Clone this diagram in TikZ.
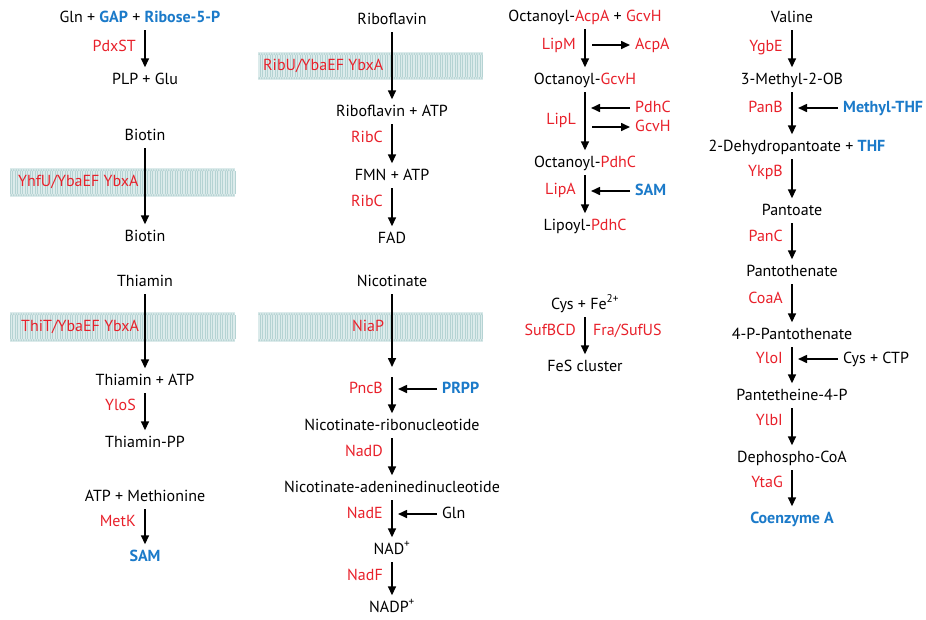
\documentclass[tikz,border=0pt]{standalone}
\usepackage{fontspec}
\setmainfont{PT Sans}
\usetikzlibrary{arrows.meta}
\definecolor{ered}{HTML}{E8202A}
\definecolor{eblue}{HTML}{1B7AC9}
\definecolor{memfill}{HTML}{DCEBEB}
\definecolor{memline}{HTML}{B5D3D3}
\newcommand\kb[1]{\textcolor{eblue}{\bfseries #1}}
\newcommand\kr[1]{\textcolor{ered}{#1}}
\newcommand\mymembrane[4]{%
  \fill[memfill] (#1,#2) rectangle (#3,#4);
  \draw[memline, line width=0.5pt, xstep=2.5, ystep=1000] (#1,#2+3) grid (#3,#4-3);
  \draw[memline, line width=2pt, dash pattern=on 0pt off 2.5pt, line cap=round] (#1+1.25,#2+2) -- (#3,#2+2);
  \draw[memline, line width=2pt, dash pattern=on 0pt off 2.5pt, line cap=round] (#1+1.25,#4-2) -- (#3,#4-2);
}
\begin{document}
\begin{tikzpicture}[x=1pt,y=-1pt, font=\fontsize{16}{18}\selectfont,
  every node/.style={inner sep=2pt, text height=11.5pt, text depth=3.5pt},
  enz/.style={anchor=east, text=ered},
  side/.style={anchor=west},
  arr/.style={line width=1.6pt, -{Triangle[length=9pt,width=8pt]}, shorten <=2.5pt, shorten >=3pt},
  arr0/.style={line width=1.6pt, -{Triangle[length=9pt,width=8pt]}},
  harrL/.style={line width=1.6pt, -{Triangle[length=9pt,width=8pt]}, shorten <=3pt, shorten >=6pt},
  harrR/.style={line width=1.6pt, -{Triangle[length=9pt,width=8pt]}, shorten <=7pt, shorten >=3pt},
]
\useasboundingbox (0,0) rectangle (926,619);
\coordinate (c1) at (145,0);
\coordinate (c2) at (392,0);
\coordinate (c3) at (585,0);
\coordinate (c4) at (792,0);

% membranes
\mymembrane{10}{168}{235}{197}
\mymembrane{10}{312}{235}{342}
\mymembrane{258}{52}{483}{80}
\mymembrane{258}{312}{483}{342}

% ---------- column 1
\node (gln) at (140,18) {Gln + \kb{GAP} + \kb{Ribose-5-P}};
\node[enz] (pdxst) at (138,47) {PdxST};
\node (plp) at (145,80) {PLP + Glu};
\draw[arr] (gln.south -| c1) -- (plp.north -| c1);

\node (bio1) at (145,136) {Biotin};
\node[side, text=ered] (yhfu) at (16,182) {YhfU/YbaEF YbxA};
\node (bio2) at (145,237) {Biotin};
\draw[arr] (bio1) -- (bio2);

\node (thi) at (145,282) {Thiamin};
\node[side, text=ered] (thit) at (19,327) {ThiT/YbaEF YbxA};
\node (thiatp) at (145,381) {Thiamin + ATP};
\draw[arr] (thi) -- (thiatp);
\node[enz] (ylos) at (138,406) {YloS};
\node (thipp) at (145,443) {Thiamin-PP};
\draw[arr] (thiatp) -- (thipp);

\node (atpmet) at (145,497) {ATP + Methionine};
\node[enz] (metk) at (138,522) {MetK};
\node (sam1) at (145,557) {\kb{SAM}};
\draw[arr] (atpmet) -- (sam1);

% ---------- column 2
\node (ribo) at (392,20) {Riboflavin};
\node[side, text=ered] (ribu) at (261,66) {RibU/YbaEF YbxA};
\node (riboatp) at (392,112) {Riboflavin + ATP};
\draw[arr] (ribo) -- (riboatp);
\node[enz] (ribc1) at (385,138) {RibC};
\node (fmn) at (392,176) {FMN + ATP};
\draw[arr] (riboatp) -- (fmn);
\node[enz] (ribc2) at (385,202) {RibC};
\node (fad) at (392,239) {FAD};
\draw[arr] (fmn) -- (fad);

\node (nico) at (392,282) {Nicotinate};
\node[text=ered] (niap) at (368,327) {NiaP};
\coordinate (nin1) at (392,367);
\coordinate (nin2) at (392,377);
\draw[arr0, shorten <=2.5pt] (nico.south) -- (nin1);
\node[enz] (pncb) at (385,389) {PncB};
\node[side] (prpp) at (440,389) {\kb{PRPP}};
\node (nicorib) at (392,426) {Nicotinate-ribonucleotide};
\draw[arr0, shorten >=3pt] (nin2) -- (nicorib.north);
\draw[harrL] (prpp.west) -- (prpp.west -| c2);
\node[enz] (nadd) at (385,452) {NadD};
\node (nicoade) at (392,488) {Nicotinate-adeninedinucleotide};
\draw[arr] (nicorib) -- (nicoade);
\node[enz] (nade) at (385,514) {NadE};
\node[side] (gln2) at (440,514) {Gln};
\node (nad) at (392,550) {NAD\textsuperscript{+}};
\draw[arr] (nicoade) -- (nad);
\draw[harrL] (gln2.west) -- (gln2.west -| c2);
\node[enz] (nadf) at (385,576) {NadF};
\node (nadp) at (392,608) {NADP\textsuperscript{+}};
\draw[arr] (nad) -- (nadp);

% ---------- column 3
\node (oa) at (585,17) {Octanoyl-\kr{AcpA} + \kr{GcvH}};
\node[enz] (lipm) at (578,45) {LipM};
\node[side, text=ered] (acpa) at (633,45) {AcpA};
\node (og) at (585,80) {Octanoyl-\kr{GcvH}};
\draw[arr] (oa.south -| c3) -- (og.north -| c3);
\draw[harrR] (acpa.west -| c3) -- (acpa.west);
\node[enz] (lipl) at (578,120) {LipL};
\node[side, text=ered] (pdhc) at (633,108) {PdhC};
\node[side, text=ered] (gcvh) at (633,127) {GcvH};
\node (op) at (585,163) {Octanoyl-\kr{PdhC}};
\draw[arr] (og) -- (op);
\draw[harrL] (pdhc.west) -- (pdhc.west -| c3);
\draw[harrR] (gcvh.west -| c3) -- (gcvh.west);
\node[enz] (lipa) at (578,190) {LipA};
\node[side] (sam3) at (633,191) {\kb{SAM}};
\node (lp) at (585,226) {Lipoyl-\kr{PdhC}};
\draw[arr] (op) -- (lp);
\draw[harrL] (sam3.west) -- (sam3.west -| c3);

\node (cys) at (585,305) {Cys + Fe\textsuperscript{2+}};
\node[enz] (sufbcd) at (578,331) {SufBCD};
\node[side, text=ered] (fra) at (591,331) {Fra/SufUS};
\node (fes) at (585,367) {FeS cluster};
\draw[arr] (cys) -- (fes);

% ---------- column 4
\node (val) at (792,18) {Valine};
\node[enz] (ygbe) at (785,47) {YgbE};
\node (mob) at (792,80) {3-Methyl-2-OB};
\draw[arr] (val) -- (mob);
\node[enz] (panb) at (785,108) {PanB};
\node[side] (mthf) at (841,108) {\kb{Methyl-THF}};
\node (dhp) at (797,147) {2-Dehydropantoate + \kb{THF}};
\draw[arr] (mob) -- (dhp.north -| c4);
\draw[harrL] (mthf.west) -- (mthf.west -| c4);
\node[enz] (ykpb) at (785,172) {YkpB};
\node (pantoate) at (792,211) {Pantoate};
\draw[arr] (dhp.south -| c4) -- (pantoate);
\node[enz] (panc) at (785,237) {PanC};
\node (pantoth) at (792,272) {Pantothenate};
\draw[arr] (pantoate) -- (pantoth);
\node[enz] (coaa) at (785,299) {CoaA};
\node (ppanto) at (792,335) {4-P-Pantothenate};
\draw[arr] (pantoth) -- (ppanto);
\node[enz] (yloi) at (785,359) {YloI};
\node[side] (cysctp) at (841,359) {Cys + CTP};
\node (p4p) at (792,396) {Pantetheine-4-P};
\draw[arr] (ppanto) -- (p4p);
\draw[harrL] (cysctp.west) -- (cysctp.west -| c4);
\node[enz] (ylbi) at (785,421) {YlbI};
\node (dcoa) at (792,458) {Dephospho-CoA};
\draw[arr] (p4p) -- (dcoa);
\node[enz] (ytag) at (785,483) {YtaG};
\node (coa) at (792,519) {\kb{Coenzyme A}};
\draw[arr] (dcoa) -- (coa);
\end{tikzpicture}
\end{document}
